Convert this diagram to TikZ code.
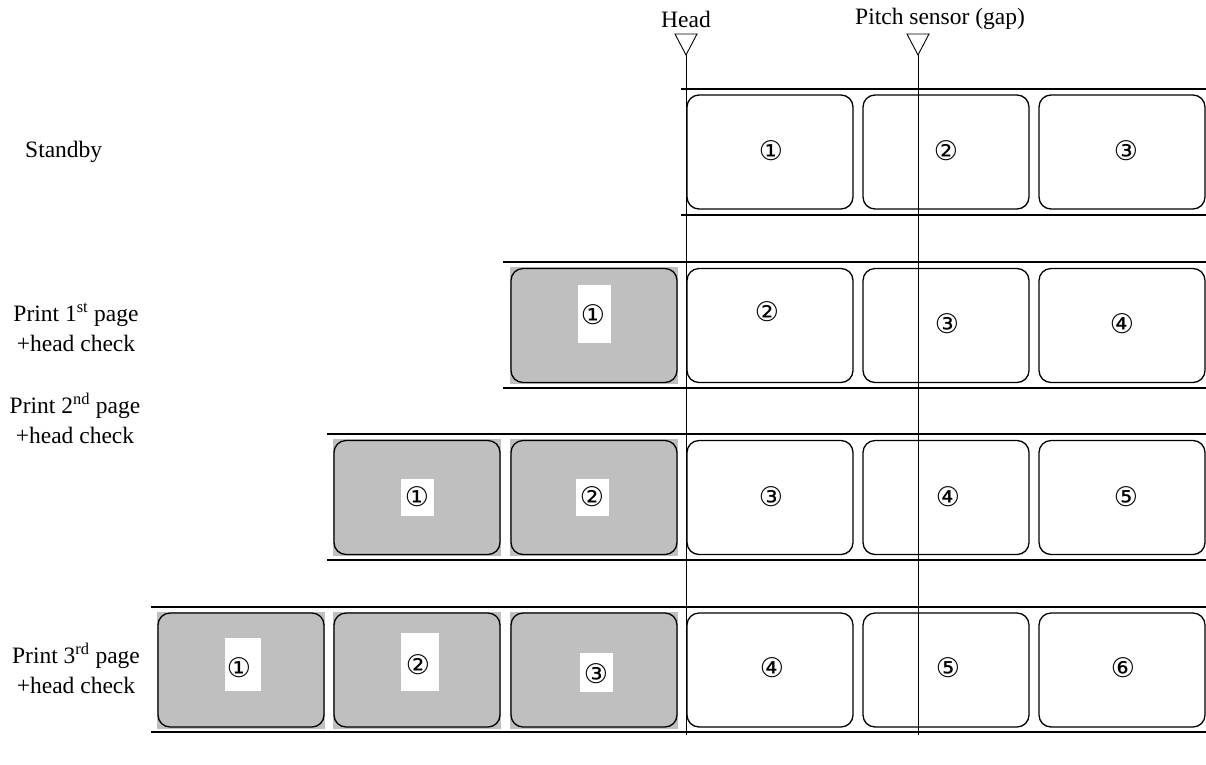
\documentclass[tikz,border=0pt]{standalone}
\usepackage{fontspec}
\setmainfont{Liberation Serif}
\newfontfamily\circfont{DejaVu Sans}
\begin{document}
\begin{tikzpicture}[x=1pt,y=-1pt,
  txt/.style={font=\fontsize{23.5}{30}\selectfont, inner sep=0pt, align=center},
  num/.style={font=\circfont\fontsize{27}{27}\selectfont, inner sep=0pt},
  labelbox/.style={draw, line width=1.3pt, rounded corners=12pt, minimum width=166pt, minimum height=114pt, inner sep=0pt},
  greybg/.style={fill=gray!50, minimum width=168pt, minimum height=117pt, inner sep=0pt},
  whitetag/.style={fill=white, inner sep=0pt},
  tape/.style={line width=1.5pt},
  sensor/.style={line width=1pt},
]
\useasboundingbox (0,0) rectangle (1206,764);

% ---- tapes
\foreach \r/\xa/\ya/\yb in {1/681/89/215, 2/503/262/388, 3/327/434/560, 4/151/607/732}{
  \coordinate (t\r a) at (\xa,\ya);
  \coordinate (t\r ae) at (1206,\ya);
  \coordinate (t\r b) at (\xa,\yb);
  \coordinate (t\r be) at (1206,\yb);
  \draw[tape] (t\r a) -- (t\r ae);
  \draw[tape] (t\r b) -- (t\r be);
}

% ---- grey (printed) labels
\foreach \n/\x/\y in {r2C/594/325.5, r3B/417/497.5, r3C/594/497.5, r4A/241/670, r4B/417/670, r4C/594/670}{
  \node[greybg] (g\n) at (\x,\y) {};
}
% ---- all label outlines
\foreach \n/\x/\y in {r1D/770/152, r1E/946/152, r1F/1122/152,
                      r2C/594/325.5, r2D/770/325.5, r2E/946/325.5, r2F/1122/325.5,
                      r3B/417/497.5, r3C/594/497.5, r3D/770/497.5, r3E/946/497.5, r3F/1122/497.5,
                      r4A/241/670, r4B/417/670, r4C/594/670, r4D/770/670, r4E/946/670, r4F/1122/670}{
  \node[labelbox] (b\n) at (\x,\y) {};
}

% ---- white tags on printed labels
\node[whitetag, minimum width=33pt, minimum height=58pt] (w2C) at (594.5,314) {};
\node[whitetag, minimum width=33pt, minimum height=37pt] (w3B) at (417.5,497.5) {};
\node[whitetag, minimum width=33pt, minimum height=37pt] (w3C) at (592.5,497.5) {};
\node[whitetag, minimum width=36pt, minimum height=53pt] (w4A) at (243,664.5) {};
\node[whitetag, minimum width=38pt, minimum height=58pt] (w4B) at (420,662) {};
\node[whitetag, minimum width=33pt, minimum height=39pt] (w4C) at (596.5,672.5) {};

% ---- numbers
\node[num] (n1a) at (771,151) {①};
\node[num] (n1b) at (946,151) {②};
\node[num] (n1c) at (1126,151) {③};
\node[num] (n2a) at (593,315) {①};
\node[num] (n2b) at (767,312) {②};
\node[num] (n2c) at (947,324) {③};
\node[num] (n2d) at (1122,324) {④};
\node[num] (n3a) at (417,497) {①};
\node[num] (n3b) at (592,497) {②};
\node[num] (n3c) at (771,497) {③};
\node[num] (n3d) at (948,497) {④};
\node[num] (n3e) at (1126,497) {⑤};
\node[num] (n4a) at (239,668) {①};
\node[num] (n4b) at (418,665) {②};
\node[num] (n4c) at (596,674) {③};
\node[num] (n4d) at (772,668) {④};
\node[num] (n4e) at (948,668) {⑤};
\node[num] (n4f) at (1123,668) {⑥};

% ---- head and pitch sensor
\coordinate (htip) at (686,55);
\coordinate (hbot) at (686,735);
\coordinate (ptip) at (918,55);
\coordinate (pbot) at (918,735);
\draw[sensor] (htip) -- (hbot);
\draw[sensor] (ptip) -- (pbot);
\draw[line width=0.9pt, line join=miter] (675,34) -- (697,34) -- (htip) -- cycle;
\draw[line width=0.9pt, line join=miter] (907,34) -- (929,34) -- (ptip) -- cycle;
\node[txt] (head) at (686,19) {Head};
\node[txt, anchor=west] (pitch) at (855,19) {Pitch sensor (gap)};

% ---- row captions
\node[txt, anchor=west] (standby) at (25,152) {Standby};
\node[txt] (p1) at (76,327) {Print 1\textsuperscript{st} page\\+head check};
\node[txt] (p2) at (75,418) {Print 2\textsuperscript{nd} page\\+head check};
\node[txt] (p3) at (76,668) {Print 3\textsuperscript{rd} page\\+head check};
\end{tikzpicture}
\end{document}
